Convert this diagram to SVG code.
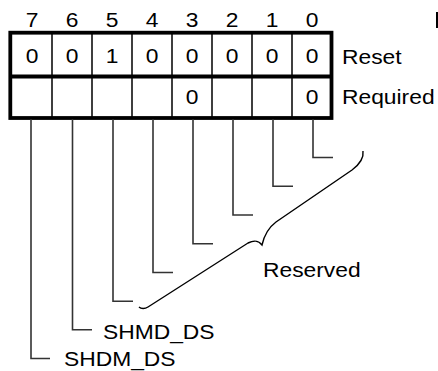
<svg xmlns="http://www.w3.org/2000/svg" width="438" height="371" viewBox="0 0 438 371">
<style>
text{font-family:"Liberation Sans",Arial,sans-serif;font-size:19.5px;fill:#000}
.c{text-anchor:middle}
.thin{stroke:#000;stroke-width:1.5;fill:none}
.thick{stroke:#000;stroke-width:3.8;fill:none}
.conn{stroke:#333;stroke-width:1.6;fill:none}
</style>
<g id="bitnums">
<text class="c" transform="translate(32,27.3) scale(1.17,1)">7</text>
<text class="c" transform="translate(72,27.3) scale(1.17,1)">6</text>
<text class="c" transform="translate(112,27.3) scale(1.17,1)">5</text>
<text class="c" transform="translate(152,27.3) scale(1.17,1)">4</text>
<text class="c" transform="translate(192,27.3) scale(1.17,1)">3</text>
<text class="c" transform="translate(232,27.3) scale(1.17,1)">2</text>
<text class="c" transform="translate(272,27.3) scale(1.17,1)">1</text>
<text class="c" transform="translate(312,27.3) scale(1.17,1)">0</text>
</g>
<g id="register">
<path class="thin" d="M52,33V118M92,33V118M132,33V118M172,33V118M212,33V118M252,33V118M292,33V118"/>
<rect class="thick" x="10.3" y="32.7" width="321.2" height="85.3"/>
<line class="thick" x1="10" y1="76.5" x2="331.5" y2="76.5"/>
<text class="c" transform="translate(32,63.3) scale(1.17,1)">0</text>
<text class="c" transform="translate(72,63.3) scale(1.17,1)">0</text>
<text class="c" transform="translate(112,63.3) scale(1.17,1)">1</text>
<text class="c" transform="translate(152,63.3) scale(1.17,1)">0</text>
<text class="c" transform="translate(192,63.3) scale(1.17,1)">0</text>
<text class="c" transform="translate(232,63.3) scale(1.17,1)">0</text>
<text class="c" transform="translate(272,63.3) scale(1.17,1)">0</text>
<text class="c" transform="translate(312,63.3) scale(1.17,1)">0</text>
<text class="c" transform="translate(192,103.5) scale(1.17,1)">0</text>
<text class="c" transform="translate(312,103.5) scale(1.17,1)">0</text>
<text transform="translate(342,64) scale(1.17,1)">Reset</text>
<text transform="translate(342,103.5) scale(1.17,1)">Required</text>
</g>
<rect x="436" y="12" width="2" height="16" fill="#000"/>
<g id="connectors">
<path class="conn" d="M313,119V157.5H333"/>
<path class="conn" d="M273,119V186.2H293"/>
<path class="conn" d="M233,119V215H253"/>
<path class="conn" d="M193,119V243.7H213"/>
<path class="conn" d="M153,119V272.5H173"/>
<path class="conn" d="M113,119V301.2H133"/>
<path class="conn" d="M72.5,119V329.8H92"/>
<path class="conn" d="M31,119V358.5H50"/>
<path d="M363,151 C364,158 360,164 352,170 L276,222 C268,228 264,236 262,245 C258,240 254,240 248,243 L148,307 C145,309 141,309 139,307" fill="none" stroke="#000" stroke-width="1.4"/>
</g>
<g id="labels">
<text transform="translate(263,277) scale(1.17,1)">Reserved</text>
<text transform="translate(103,338.5) scale(1.17,1)">SHMD_DS</text>
<text transform="translate(64,365.5) scale(1.17,1)">SHDM_DS</text>
</g>
</svg>
